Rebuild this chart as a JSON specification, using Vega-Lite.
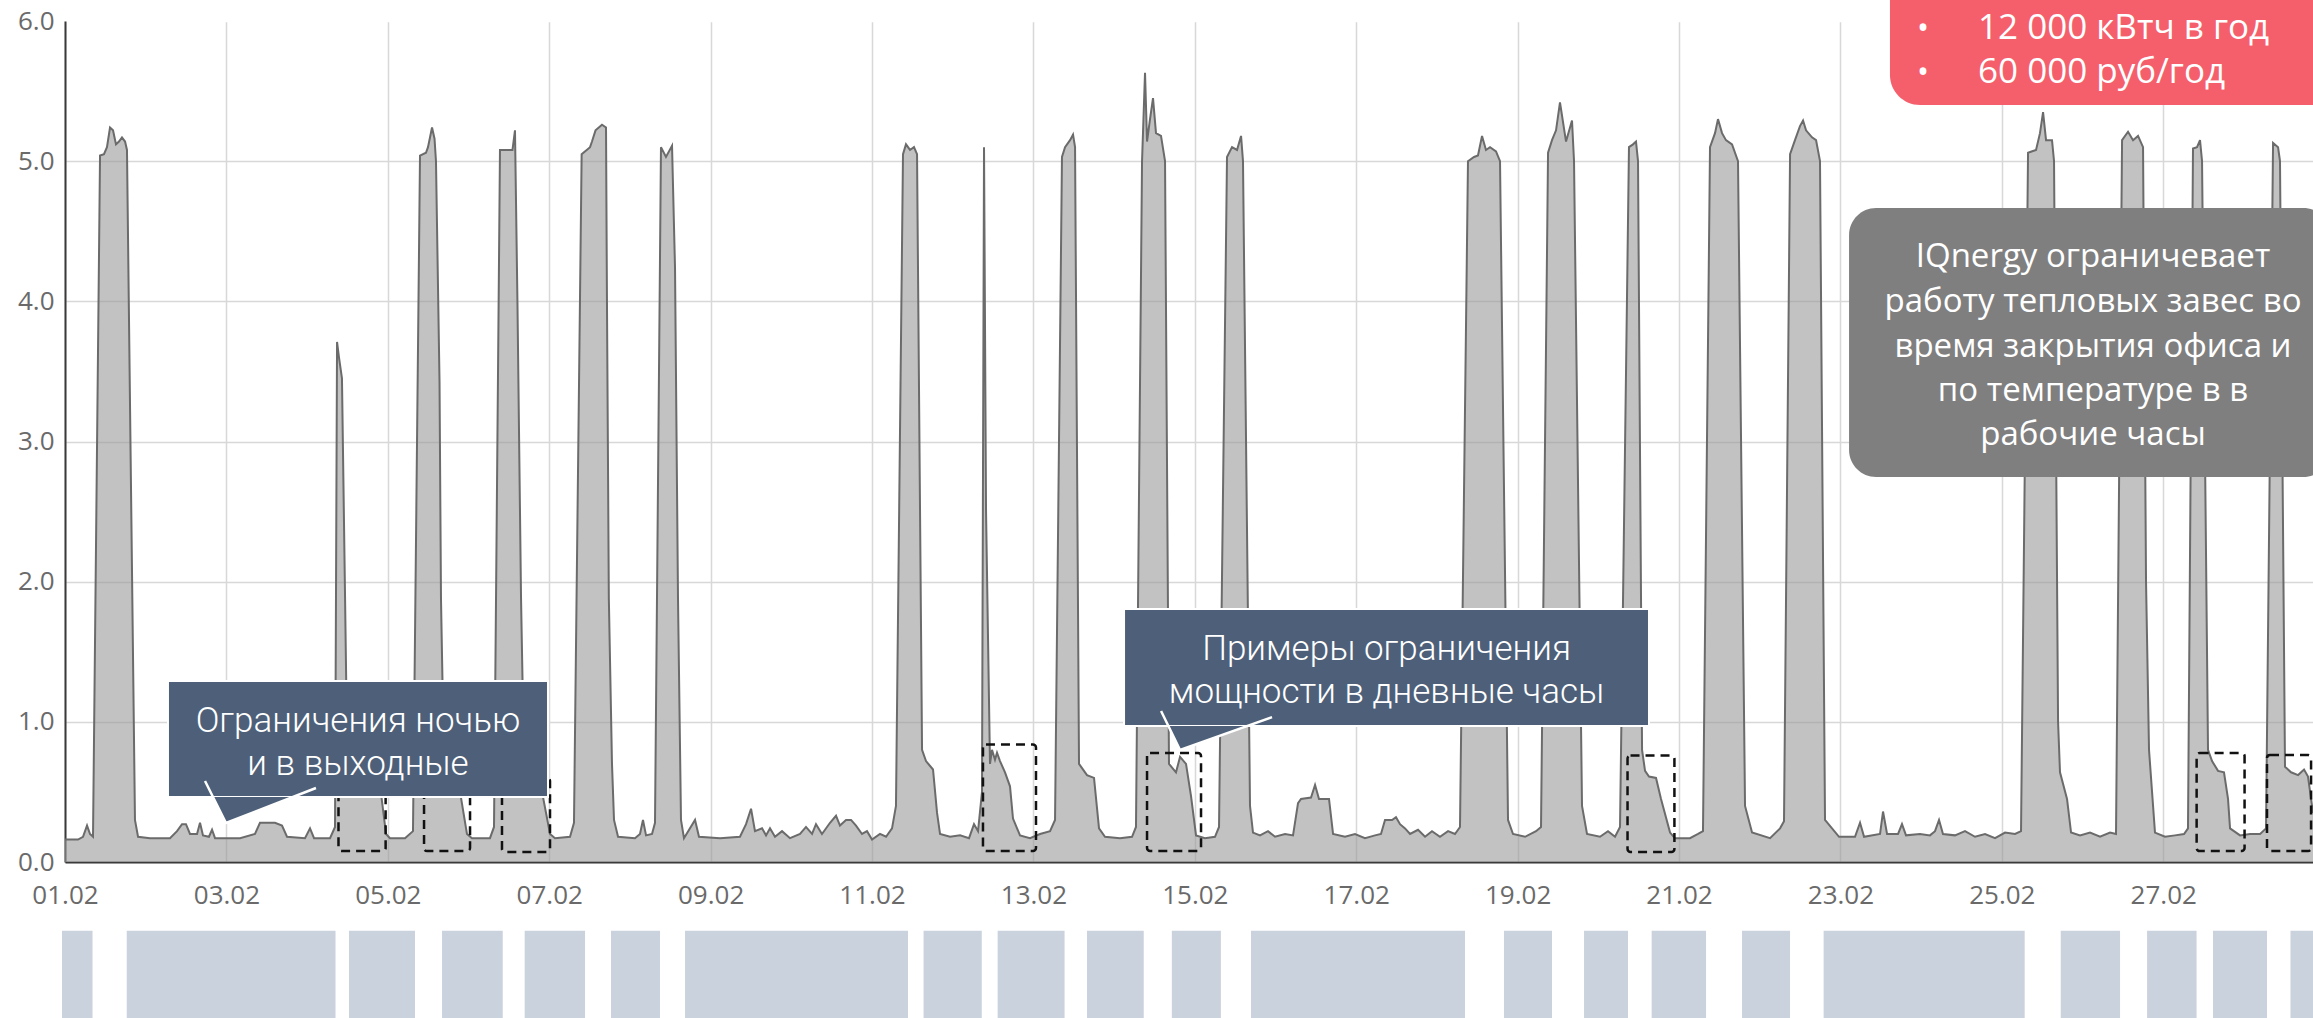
{
"$schema":"https://vega.github.io/schema/vega-lite/v6.json",
"width":2248,"height":841,
"autosize":{"type":"none"},
"padding":{"left":65,"top":21,"right":0,"bottom":156},
"background":"white",
"config":{"view":{"stroke":null},"font":"Open Sans"},
"datasets":{
"series":[
{"d":1.000,"v":0.16},{"d":1.161,"v":0.16},{"d":1.223,"v":0.18},{"d":1.273,"v":0.26},{"d":1.310,"v":0.20},{"d":1.347,"v":0.18},{"d":1.434,"v":5.04},{"d":1.483,"v":5.05},{"d":1.520,"v":5.10},{"d":1.558,"v":5.24},{"d":1.595,"v":5.22},{"d":1.632,"v":5.12},{"d":1.669,"v":5.14},{"d":1.706,"v":5.17},{"d":1.744,"v":5.14},{"d":1.768,"v":5.08},{"d":1.867,"v":0.30},{"d":1.905,"v":0.18},
{"d":2.053,"v":0.17},{"d":2.301,"v":0.17},{"d":2.388,"v":0.22},{"d":2.450,"v":0.27},{"d":2.499,"v":0.27},{"d":2.549,"v":0.20},{"d":2.636,"v":0.20},{"d":2.673,"v":0.28},{"d":2.710,"v":0.19},{"d":2.784,"v":0.18},{"d":2.822,"v":0.23},{"d":2.859,"v":0.17},{"d":3.169,"v":0.17},{"d":3.354,"v":0.20},{"d":3.416,"v":0.28},{"d":3.602,"v":0.28},{"d":3.689,"v":0.26},{"d":3.751,"v":0.18},{"d":3.974,"v":0.17},{"d":4.036,"v":0.24},{"d":4.086,"v":0.17},{"d":4.284,"v":0.17},{"d":4.346,"v":0.25},
{"d":4.371,"v":3.71},{"d":4.395,"v":3.60},{"d":4.432,"v":3.45},{"d":4.470,"v":1.90},{"d":4.494,"v":0.90},{"d":4.532,"v":0.65},{"d":4.804,"v":0.60},{"d":4.903,"v":0.55},{"d":4.978,"v":0.20},{"d":5.027,"v":0.17},{"d":5.213,"v":0.17},{"d":5.312,"v":0.22},
{"d":5.399,"v":5.04},{"d":5.473,"v":5.06},{"d":5.498,"v":5.10},{"d":5.548,"v":5.24},{"d":5.579,"v":5.16},{"d":5.597,"v":5.00},{"d":5.641,"v":3.42},{"d":5.659,"v":1.88},{"d":5.696,"v":0.70},{"d":5.771,"v":0.60},{"d":5.833,"v":0.55},{"d":5.895,"v":0.50},{"d":5.981,"v":0.20},{"d":6.043,"v":0.17},{"d":6.266,"v":0.17},{"d":6.316,"v":0.25},
{"d":6.390,"v":5.08},{"d":6.545,"v":5.08},{"d":6.576,"v":5.22},{"d":6.607,"v":3.97},{"d":6.651,"v":1.88},{"d":6.688,"v":0.70},{"d":6.824,"v":0.60},{"d":6.911,"v":0.50},{"d":7.010,"v":0.20},{"d":7.072,"v":0.17},{"d":7.258,"v":0.18},{"d":7.307,"v":0.28},
{"d":7.402,"v":5.05},{"d":7.506,"v":5.10},{"d":7.530,"v":5.14},{"d":7.574,"v":5.22},{"d":7.654,"v":5.26},{"d":7.704,"v":5.24},{"d":7.716,"v":3.97},{"d":7.739,"v":1.88},{"d":7.778,"v":0.70},{"d":7.803,"v":0.30},{"d":7.853,"v":0.18},{"d":8.063,"v":0.17},{"d":8.125,"v":0.20},{"d":8.162,"v":0.30},{"d":8.200,"v":0.19},{"d":8.274,"v":0.20},{"d":8.311,"v":0.28},
{"d":8.385,"v":5.10},{"d":8.447,"v":5.03},{"d":8.522,"v":5.11},{"d":8.559,"v":4.24},{"d":8.596,"v":1.88},{"d":8.633,"v":0.30},{"d":8.670,"v":0.17},{"d":8.807,"v":0.30},{"d":8.856,"v":0.18},{"d":9.117,"v":0.17},{"d":9.364,"v":0.18},{"d":9.439,"v":0.27},{"d":9.501,"v":0.38},{"d":9.550,"v":0.22},{"d":9.637,"v":0.24},{"d":9.687,"v":0.19},{"d":9.736,"v":0.24},{"d":9.798,"v":0.18},{"d":9.885,"v":0.22},{"d":9.984,"v":0.17},{"d":10.108,"v":0.20},{"d":10.182,"v":0.25},{"d":10.257,"v":0.20},{"d":10.306,"v":0.27},{"d":10.380,"v":0.20},{"d":10.480,"v":0.28},{"d":10.554,"v":0.33},{"d":10.603,"v":0.26},{"d":10.678,"v":0.30},{"d":10.740,"v":0.30},{"d":10.802,"v":0.26},{"d":10.876,"v":0.20},{"d":10.938,"v":0.22},{"d":11.000,"v":0.16},{"d":11.099,"v":0.20},{"d":11.174,"v":0.18},{"d":11.248,"v":0.24},{"d":11.297,"v":0.40},
{"d":11.384,"v":5.05},{"d":11.421,"v":5.12},{"d":11.471,"v":5.08},{"d":11.520,"v":5.10},{"d":11.558,"v":5.05},{"d":11.620,"v":0.80},{"d":11.669,"v":0.72},{"d":11.756,"v":0.66},{"d":11.806,"v":0.35},{"d":11.843,"v":0.20},{"d":11.967,"v":0.18},{"d":12.091,"v":0.19},{"d":12.202,"v":0.17},{"d":12.264,"v":0.27},{"d":12.314,"v":0.22},{"d":12.363,"v":0.50},
{"d":12.388,"v":5.10},{"d":12.413,"v":2.50},{"d":12.462,"v":0.70},{"d":12.487,"v":0.80},{"d":12.524,"v":0.73},{"d":12.549,"v":0.78},{"d":12.586,"v":0.72},{"d":12.648,"v":0.64},{"d":12.710,"v":0.54},{"d":12.747,"v":0.31},{"d":12.834,"v":0.19},{"d":12.958,"v":0.17},{"d":13.082,"v":0.20},{"d":13.206,"v":0.22},{"d":13.268,"v":0.30},
{"d":13.354,"v":5.03},{"d":13.392,"v":5.10},{"d":13.454,"v":5.15},{"d":13.491,"v":5.19},{"d":13.516,"v":5.10},{"d":13.565,"v":0.70},{"d":13.664,"v":0.62},{"d":13.751,"v":0.60},{"d":13.813,"v":0.24},{"d":13.887,"v":0.18},{"d":14.073,"v":0.17},{"d":14.222,"v":0.18},{"d":14.271,"v":0.25},
{"d":14.346,"v":5.00},{"d":14.383,"v":5.63},{"d":14.408,"v":5.14},{"d":14.445,"v":5.30},{"d":14.482,"v":5.45},{"d":14.519,"v":5.20},{"d":14.581,"v":5.18},{"d":14.631,"v":5.00},{"d":14.680,"v":0.70},{"d":14.767,"v":0.64},{"d":14.817,"v":0.75},{"d":14.891,"v":0.70},{"d":14.953,"v":0.47},{"d":15.015,"v":0.19},{"d":15.126,"v":0.17},{"d":15.250,"v":0.18},{"d":15.300,"v":0.25},
{"d":15.399,"v":5.03},{"d":15.461,"v":5.10},{"d":15.523,"v":5.08},{"d":15.573,"v":5.18},{"d":15.597,"v":5.00},{"d":15.684,"v":0.40},{"d":15.721,"v":0.21},{"d":15.808,"v":0.19},{"d":15.907,"v":0.22},{"d":15.994,"v":0.18},{"d":16.118,"v":0.20},{"d":16.217,"v":0.19},{"d":16.279,"v":0.42},{"d":16.316,"v":0.45},{"d":16.440,"v":0.46},{"d":16.490,"v":0.55},{"d":16.539,"v":0.45},{"d":16.663,"v":0.45},{"d":16.713,"v":0.20},{"d":16.861,"v":0.18},{"d":16.985,"v":0.20},{"d":17.109,"v":0.17},{"d":17.233,"v":0.19},{"d":17.307,"v":0.20},{"d":17.357,"v":0.30},{"d":17.444,"v":0.30},{"d":17.493,"v":0.32},{"d":17.543,"v":0.27},{"d":17.605,"v":0.24},{"d":17.667,"v":0.20},{"d":17.766,"v":0.23},{"d":17.853,"v":0.18},{"d":17.939,"v":0.22},{"d":18.038,"v":0.18},{"d":18.138,"v":0.22},{"d":18.224,"v":0.20},{"d":18.286,"v":0.25},
{"d":18.385,"v":5.00},{"d":18.460,"v":5.03},{"d":18.509,"v":5.04},{"d":18.559,"v":5.18},{"d":18.608,"v":5.08},{"d":18.658,"v":5.10},{"d":18.732,"v":5.07},{"d":18.782,"v":5.00},{"d":18.881,"v":0.30},{"d":18.943,"v":0.20},{"d":19.092,"v":0.18},{"d":19.228,"v":0.22},{"d":19.290,"v":0.25},
{"d":19.377,"v":5.06},{"d":19.426,"v":5.15},{"d":19.476,"v":5.22},{"d":19.525,"v":5.42},{"d":19.600,"v":5.14},{"d":19.674,"v":5.29},{"d":19.699,"v":5.00},{"d":19.798,"v":0.40},{"d":19.860,"v":0.20},{"d":20.021,"v":0.18},{"d":20.120,"v":0.22},{"d":20.207,"v":0.18},{"d":20.269,"v":0.25},
{"d":20.380,"v":5.10},{"d":20.430,"v":5.12},{"d":20.467,"v":5.14},{"d":20.492,"v":5.00},{"d":20.542,"v":0.80},{"d":20.579,"v":0.65},{"d":20.628,"v":0.61},{"d":20.715,"v":0.60},{"d":20.777,"v":0.45},{"d":20.889,"v":0.21},{"d":20.950,"v":0.17},{"d":21.136,"v":0.17},{"d":21.236,"v":0.20},{"d":21.297,"v":0.22},
{"d":21.384,"v":5.10},{"d":21.446,"v":5.20},{"d":21.483,"v":5.30},{"d":21.533,"v":5.20},{"d":21.582,"v":5.15},{"d":21.657,"v":5.12},{"d":21.731,"v":5.00},{"d":21.818,"v":0.40},{"d":21.905,"v":0.21},{"d":22.128,"v":0.17},{"d":22.252,"v":0.24},{"d":22.301,"v":0.29},
{"d":22.376,"v":5.05},{"d":22.437,"v":5.15},{"d":22.499,"v":5.25},{"d":22.537,"v":5.29},{"d":22.574,"v":5.22},{"d":22.648,"v":5.17},{"d":22.698,"v":5.15},{"d":22.747,"v":5.00},{"d":22.809,"v":0.30},{"d":22.983,"v":0.18},{"d":23.181,"v":0.18},{"d":23.243,"v":0.28},{"d":23.293,"v":0.18},{"d":23.491,"v":0.20},{"d":23.528,"v":0.36},{"d":23.578,"v":0.20},{"d":23.714,"v":0.20},{"d":23.763,"v":0.27},{"d":23.813,"v":0.19},{"d":23.986,"v":0.20},{"d":24.110,"v":0.19},{"d":24.172,"v":0.22},{"d":24.222,"v":0.30},{"d":24.271,"v":0.20},{"d":24.420,"v":0.19},{"d":24.544,"v":0.22},{"d":24.668,"v":0.18},{"d":24.792,"v":0.20},{"d":24.916,"v":0.17},{"d":25.040,"v":0.21},{"d":25.164,"v":0.20},{"d":25.238,"v":0.22},
{"d":25.325,"v":5.06},{"d":25.424,"v":5.08},{"d":25.473,"v":5.20},{"d":25.511,"v":5.35},{"d":25.548,"v":5.15},{"d":25.622,"v":5.15},{"d":25.647,"v":5.00},{"d":25.697,"v":1.00},{"d":25.721,"v":0.64},{"d":25.808,"v":0.45},{"d":25.858,"v":0.21},{"d":25.969,"v":0.19},{"d":26.093,"v":0.21},{"d":26.217,"v":0.18},{"d":26.341,"v":0.21},{"d":26.415,"v":0.20},
{"d":26.490,"v":5.15},{"d":26.564,"v":5.21},{"d":26.626,"v":5.15},{"d":26.688,"v":5.18},{"d":26.750,"v":5.10},{"d":26.787,"v":2.00},{"d":26.824,"v":0.80},{"d":26.898,"v":0.21},{"d":27.022,"v":0.18},{"d":27.146,"v":0.19},{"d":27.258,"v":0.20},{"d":27.307,"v":0.24},
{"d":27.369,"v":5.09},{"d":27.419,"v":5.10},{"d":27.456,"v":5.15},{"d":27.481,"v":5.00},{"d":27.555,"v":0.80},{"d":27.605,"v":0.72},{"d":27.679,"v":0.65},{"d":27.753,"v":0.64},{"d":27.803,"v":0.45},{"d":27.828,"v":0.24},{"d":27.952,"v":0.19},{"d":28.076,"v":0.20},{"d":28.200,"v":0.20},{"d":28.274,"v":0.24},
{"d":28.361,"v":5.13},{"d":28.423,"v":5.10},{"d":28.447,"v":5.00},{"d":28.509,"v":0.68},{"d":28.584,"v":0.64},{"d":28.671,"v":0.62},{"d":28.745,"v":0.66},{"d":28.794,"v":0.61},{"d":28.856,"v":0.35}
],
"strip":[
{"a":0.963,"b":1.341},{"a":1.765,"b":4.352},{"a":4.519,"b":5.337},{"a":5.672,"b":6.424},{"a":6.696,"b":7.444},{"a":7.766,"b":8.373},{"a":8.683,"b":11.446},{"a":11.639,"b":12.36},{"a":12.557,"b":13.386},{"a":13.664,"b":14.367},{"a":14.715,"b":15.323},{"a":15.696,"b":18.348},{"a":18.831,"b":19.426},{"a":19.823,"b":20.368},{"a":20.661,"b":21.335},{"a":21.781,"b":22.376},{"a":22.792,"b":25.283},{"a":25.73,"b":26.465},{"a":26.8,"b":27.413},{"a":27.617,"b":28.286},{"a":28.577,"b":28.95}
],
"dashed":[
{"a":4.389,"b":4.973,"lo":0.078,"hi":0.6},{"a":5.449,"b":6.019,"lo":0.078,"hi":0.6},{"a":6.415,"b":7.010,"lo":0.071,"hi":0.6},{"a":12.375,"b":13.032,"lo":0.078,"hi":0.838},{"a":14.408,"b":15.077,"lo":0.078,"hi":0.778},{"a":20.362,"b":20.943,"lo":0.071,"hi":0.760},{"a":27.414,"b":28.008,"lo":0.078,"hi":0.778},{"a":28.286,"b":28.832,"lo":0.078,"hi":0.763}
],
"callouts":[{"a":2.276,"b":6.985,"lo":0.464,"hi":1.291},{"a":14.123,"b":20.628,"lo":0.970,"hi":1.805}],
"tails":[{"g":1,"x":2.834,"top":0.464,"bot":0.464},{"g":1,"x":2.995,"top":0.464,"bot":0.278},{"g":1,"x":3.844,"top":0.464,"bot":0.464},{"g":2,"x":14.668,"top":0.970,"bot":0.970},{"g":2,"x":14.817,"top":0.970,"bot":0.799},{"g":2,"x":15.647,"top":0.970,"bot":0.970}],
"tailEdges":[{"g":1,"x":2.735,"v":0.578},{"g":1,"x":2.995,"v":0.278},{"g":1,"x":4.110,"v":0.528},{"g":2,"x":14.582,"v":1.077},{"g":2,"x":14.817,"v":0.799},{"g":2,"x":15.957,"v":1.034}],
"calloutText":[{"x":4.631,"v":0.927,"t":"Ограничения ночью"},{"x":4.631,"v":0.621,"t":"и в выходные"},{"x":17.376,"v":1.441,"t":"Примеры ограничения"},{"x":17.376,"v":1.134,"t":"мощности в дневные часы"}],
"noteBox":[{"a":23.107,"b":29.07,"lo":2.747,"hi":4.666}],
"noteText":[{"x":26.130,"v":4.245,"t":"IQnergy ограничевает"},{"x":26.130,"v":3.924,"t":"работу тепловых завес во"},{"x":26.130,"v":3.603,"t":"время закрытия офиса и"},{"x":26.130,"v":3.289,"t":"по температуре в в"},{"x":26.130,"v":2.975,"t":"рабочие часы"}],
"savingsBox":[{"a":23.614,"b":29.44,"lo":5.401,"hi":6.435}],
"savingsText":[{"x":24.705,"v":5.869,"t":"12 000 кВтч в год"},{"x":24.705,"v":5.555,"t":"60 000 руб/год"}],
"bullets":[{"x":24.024,"v":5.869,"t":"•"},{"x":24.024,"v":5.555,"t":"•"}]
},
"encoding":{
 "x":{"type":"quantitative","scale":{"domain":[1,28.856],"nice":false,"zero":false},
  "axis":{"values":[1,3,5,7,9,11,13,15,17,19,21,23,25,27],"labelExpr":"(datum.value<10?'0':'')+datum.value+'.02'","title":null,"grid":true,"gridColor":"#d8d8d8","gridWidth":1.5,"ticks":false,"domainColor":"#3a3a3a","domainWidth":2,"labelFontSize":26,"labelColor":"#6a6a6a","labelPadding":20,"labelFlush":false,"labelOverlap":false,"labelFont":"Open Sans"}},
 "y":{"type":"quantitative","scale":{"domain":[0,6],"nice":false,"zero":false},
  "axis":{"values":[0,1,2,3,4,5,6],"format":".1f","title":null,"grid":true,"gridColor":{"condition":{"test":"datum.value >= 6","value":"#ffffff"},"value":"#d8d8d8"},"gridWidth":1.5,"ticks":false,"domainColor":"#3a3a3a","domainWidth":2,"labelFontSize":26,"labelColor":"#6a6a6a","labelPadding":11,"labelOverlap":false,"labelFont":"Open Sans"}}
},
"layer":[
{"data":{"name":"series"},
 "mark":{"type":"area","color":"#9a9a9a","fillOpacity":0.6,"line":{"color":"#6b6b6b","strokeWidth":2}},
 "encoding":{"x":{"field":"d"},"y":{"field":"v"}}},
{"data":{"name":"dashed"},
 "mark":{"type":"rect","fill":"transparent","stroke":"#111111","strokeWidth":2.5,"strokeDash":[9,6],"cornerRadius":3},
 "encoding":{"x":{"field":"a"},"x2":{"field":"b"},"y":{"field":"lo"},"y2":{"field":"hi"}}},
{"data":{"name":"callouts"},
 "mark":{"type":"rect","fill":"#4e6079","stroke":"white","strokeWidth":2},
 "encoding":{"x":{"field":"a"},"x2":{"field":"b"},"y":{"field":"lo"},"y2":{"field":"hi"}}},
{"data":{"name":"tails"},
 "mark":{"type":"area","color":"#4e6079","fillOpacity":1},
 "encoding":{"x":{"field":"x"},"y":{"field":"top"},"y2":{"field":"bot"},"detail":{"field":"g"}}},
{"data":{"name":"tailEdges"},
 "mark":{"type":"line","color":"white","strokeWidth":2.5},
 "encoding":{"x":{"field":"x"},"y":{"field":"v"},"detail":{"field":"g"}}},
{"data":{"name":"calloutText"},
 "mark":{"type":"text","color":"white","font":"Roboto","fontSize":35,"fontWeight":300,"align":"center","baseline":"alphabetic"},
 "encoding":{"x":{"field":"x"},"y":{"field":"v"},"text":{"field":"t"}}},
{"data":{"name":"strip"},
 "mark":{"type":"rect","color":"#cad2dd"},
 "encoding":{"x":{"field":"a"},"x2":{"field":"b"},"y":{"datum":-0.49},"y2":{"datum":-1.15}}},
{"data":{"name":"noteBox"},
 "mark":{"type":"rect","color":"#7f7f7f","cornerRadius":27},
 "encoding":{"x":{"field":"a"},"x2":{"field":"b"},"y":{"field":"lo"},"y2":{"field":"hi"}}},
{"data":{"name":"noteText"},
 "mark":{"type":"text","color":"white","font":"Open Sans","fontSize":33,"align":"center","baseline":"alphabetic"},
 "encoding":{"x":{"field":"x"},"y":{"field":"v"},"text":{"field":"t"}}},
{"data":{"name":"savingsBox"},
 "mark":{"type":"rect","color":"#f55f6c","cornerRadius":30},
 "encoding":{"x":{"field":"a"},"x2":{"field":"b"},"y":{"field":"lo"},"y2":{"field":"hi"}}},
{"data":{"name":"savingsText"},
 "mark":{"type":"text","color":"white","font":"Open Sans","fontSize":35,"align":"left","baseline":"alphabetic"},
 "encoding":{"x":{"field":"x"},"y":{"field":"v"},"text":{"field":"t"}}},
{"data":{"name":"bullets"},
 "mark":{"type":"text","color":"white","font":"Open Sans","fontSize":32,"align":"center","baseline":"alphabetic"},
 "encoding":{"x":{"field":"x"},"y":{"field":"v"},"text":{"field":"t"}}}
]
}
